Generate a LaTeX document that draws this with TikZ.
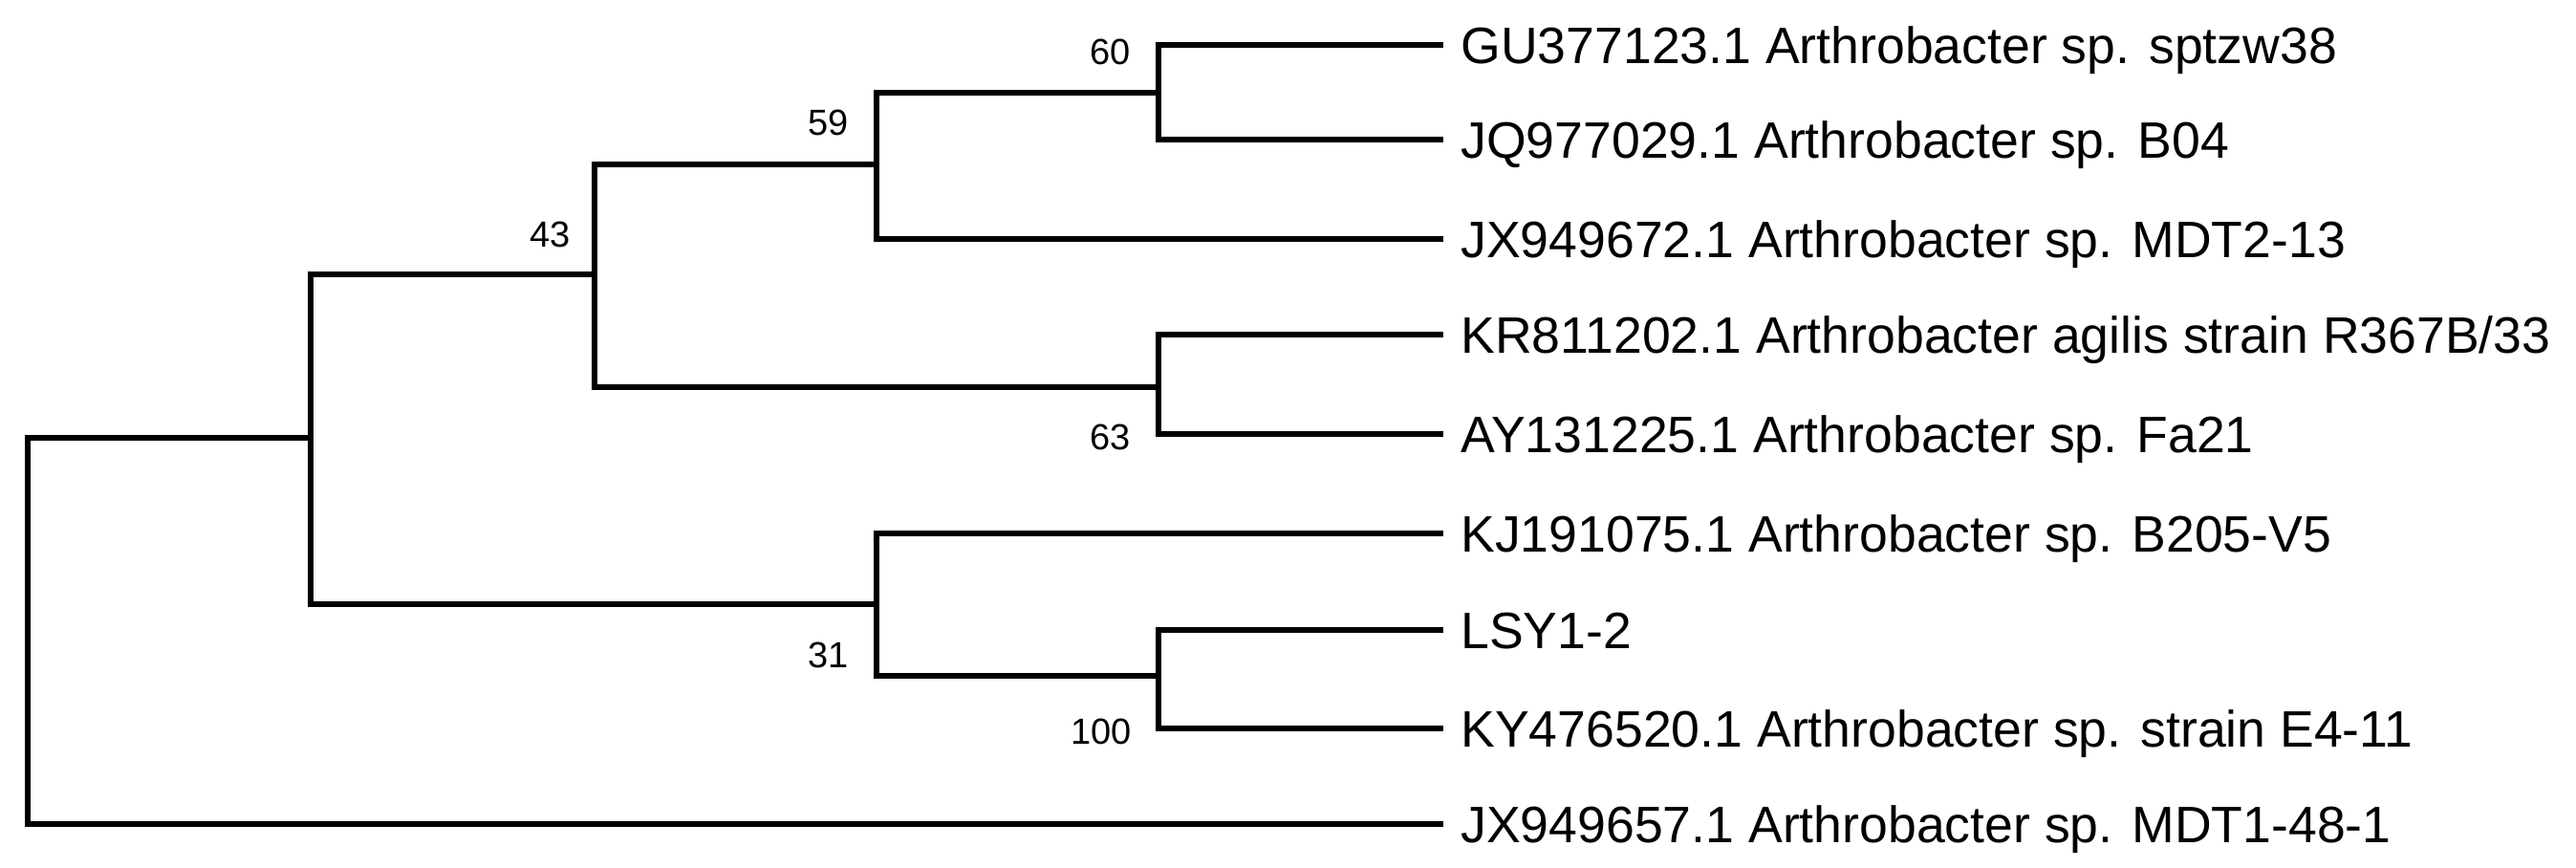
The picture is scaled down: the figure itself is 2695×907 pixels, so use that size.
\documentclass[tikz,border=0pt]{standalone}
\usepackage{fontspec}
\setmainfont{Liberation Sans}
\usetikzlibrary{calc}
\begin{document}
\begin{tikzpicture}[x=0.5pt,y=-0.5pt,
  branch/.style={line width=2.6pt,line join=miter,line cap=rect},
  leaflabel/.style={anchor=base west,inner sep=0pt,font=\fontsize{26.8}{30}\selectfont},
  boot/.style={anchor=east,inner sep=0pt,font=\fontsize{19}{22}\selectfont}]
\useasboundingbox[fill=white] (0,0) rectangle (2695,907);
% internal nodes (junction points)
\coordinate (root) at (29,660);
\coordinate (A) at (325,458);
\coordinate (n43) at (622,287);
\coordinate (n59) at (917,172);
\coordinate (n60) at (1212,97);
\coordinate (n63) at (1212,405);
\coordinate (n31) at (917,632);
\coordinate (n100) at (1212,707);
% leaf ends
\coordinate (gu) at (1507,47);
\coordinate (jq) at (1507,146);
\coordinate (jxa) at (1507,250);
\coordinate (kr) at (1507,350);
\coordinate (ay) at (1507,454);
\coordinate (kj) at (1507,558);
\coordinate (lsy) at (1507,659);
\coordinate (ky) at (1507,762);
\coordinate (jxb) at (1507,862);
% branches
\draw[branch] (root) |- (A);
\draw[branch] (root) |- (jxb);
\draw[branch] (A) |- (n43);
\draw[branch] (A) |- (n31);
\draw[branch] (n43) |- (n59);
\draw[branch] (n43) |- (n63);
\draw[branch] (n59) |- (n60);
\draw[branch] (n59) |- (jxa);
\draw[branch] (n60) |- (gu);
\draw[branch] (n60) |- (jq);
\draw[branch] (n63) |- (kr);
\draw[branch] (n63) |- (ay);
\draw[branch] (n31) |- (kj);
\draw[branch] (n31) |- (n100);
\draw[branch] (n100) |- (lsy);
\draw[branch] (n100) |- (ky);
% leaf labels
\node[leaflabel] (lgu) at ($(gu)+(21,19)$) {GU377123.1 Arthrobacter sp. sptzw38};
\node[leaflabel] (ljq) at ($(jq)+(21,19)$) {JQ977029.1 Arthrobacter sp. B04};
\node[leaflabel] (ljxa) at ($(jxa)+(21,19)$) {JX949672.1 Arthrobacter sp. MDT2-13};
\node[leaflabel] (lkr) at ($(kr)+(21,19)$) {KR811202.1 Arthrobacter agilis strain R367B/33};
\node[leaflabel] (lay) at ($(ay)+(21,19)$) {AY131225.1 Arthrobacter sp. Fa21};
\node[leaflabel] (lkj) at ($(kj)+(21,19)$) {KJ191075.1 Arthrobacter sp. B205-V5};
\node[leaflabel] (llsy) at ($(lsy)+(21,19)$) {LSY1-2};
\node[leaflabel] (lky) at ($(ky)+(21,19)$) {KY476520.1 Arthrobacter sp. strain E4-11};
\node[leaflabel] (ljxb) at ($(jxb)+(21,19)$) {JX949657.1 Arthrobacter sp. MDT1-48-1};
% bootstrap values
\node[boot] (b43) at ($(n43)+(-25,-42)$) {43};
\node[boot] (b59) at ($(n59)+(-29,-44)$) {59};
\node[boot] (b60) at ($(n60)+(-29,-43)$) {60};
\node[boot] (b63) at ($(n63)+(-29,52)$) {63};
\node[boot] (b31) at ($(n31)+(-29,53)$) {31};
\node[boot] (b100) at ($(n100)+(-28,58)$) {100};
\end{tikzpicture}
\end{document}
